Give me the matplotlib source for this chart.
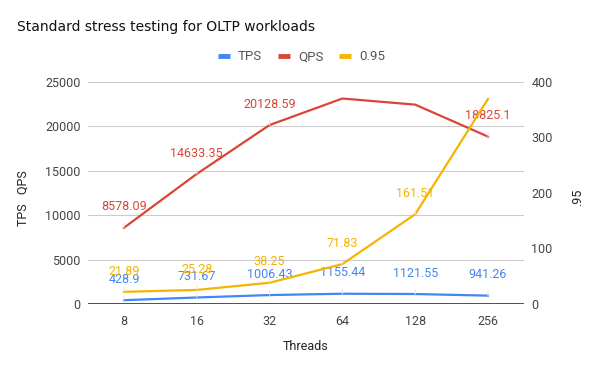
import matplotlib
matplotlib.use("Agg")
import matplotlib.pyplot as plt
from matplotlib.lines import Line2D

threads = ["8", "16", "32", "64", "128", "256"]
tps = [428.9, 731.67, 1006.43, 1155.44, 1121.55, 941.26]
qps = [8578.09, 14633.35, 20128.59, 23110.0, 22420.0, 18825.1]
p95 = [21.89, 25.28, 38.25, 71.83, 161.51, 369.0]
left_ticks = [0, 5000, 10000, 15000, 20000, 25000]
right_ticks = [0, 100, 200, 300, 400]
tps_shown = [0, 1, 2, 3, 4, 5]
qps_shown = [0, 1, 2, 5]
p95_shown = [0, 1, 2, 3, 4]

plt.rcParams['font.family'] = ['Roboto', 'DejaVu Sans']
BLUE, RED, YEL = "#4285F4", "#DB4437", "#F4B400"
GRAY = "#444444"

fig = plt.figure(figsize=(6, 3.71), dpi=100)
L, R, B, T = 87.6, 524.4, 304.0, 81.7
ax = fig.add_axes([L/600, 1-B/371, (R-L)/600, (B-T)/371])
ax2 = ax.twinx()
x = list(range(len(threads)))

ax.plot(x, tps, color=BLUE, lw=1.6, zorder=3)
ax.plot(x, qps, color=RED, lw=1.6, zorder=3)
ax2.plot(x, p95, color=YEL, lw=1.6, zorder=3)

ax.set_xlim(-0.5, 5.5)
ax.set_ylim(0, 25000)
ax2.set_ylim(0, 400)
ax.set_yticks(left_ticks)
ax.set_yticklabels([str(t) for t in left_ticks])
ax2.set_yticks(right_ticks)
ax2.set_yticklabels([str(t) for t in right_ticks])
ax.set_xticks(x)
ax.set_xticklabels(threads)

for a in (ax, ax2):
    for s in a.spines.values():
        s.set_visible(False)
    a.tick_params(length=0, labelsize=9, colors=GRAY, pad=5)
ax.tick_params(axis='x', pad=8)
ax.grid(axis='y', color="#cccccc", lw=0.8)
ax.set_axisbelow(True)
ax.axhline(0, color="#333333", lw=1.2, zorder=4)


def fmt(v):
    return f"{v:.2f}".rstrip("0").rstrip(".")


def label(a, xs, ys, idx, color):
    for i in idx:
        a.annotate(fmt(ys[i]), xy=(xs[i], ys[i]), xytext=(0, 15), textcoords="offset points",
                   ha="center", va="center", fontsize=9, color=color, zorder=5,
                   arrowprops=dict(arrowstyle="-", color="#e6e6e6", lw=0.8, shrinkA=5, shrinkB=0))


label(ax, x, tps, tps_shown, BLUE)
label(ax, x, qps, qps_shown, RED)
label(ax2, x, p95, p95_shown, YEL)

fig.text(23/600, 1-198.5/371, "TPS   QPS", fontsize=9, color="#222222", rotation=90,
         ha="center", va="center")
fig.text(578/600, 1-197/371, ".95", fontsize=9, color="#222222", rotation=90,
         ha="center", va="center")
fig.text(306/600, 1-346/371, "Threads", fontsize=9, color="#222222", ha="center", va="center")

fig.text(17/600, 1-30.5/371, "Standard stress testing for OLTP workloads", fontsize=10,
         family="DejaVu Sans", color="#111111", va="baseline", ha="left")

handles = [Line2D([], [], color=c, lw=3.5, solid_capstyle="butt") for c in (BLUE, RED, YEL)]
fig.legend(handles, ["TPS", "QPS", "0.95"], loc="center", bbox_to_anchor=(301.5/600, 1-57/371),
           ncol=3, frameon=False, fontsize=9.5, labelcolor="#555555", handlelength=0.9,
           handletextpad=0.6, columnspacing=1.2)

fig.savefig("out.png", dpi=100)
